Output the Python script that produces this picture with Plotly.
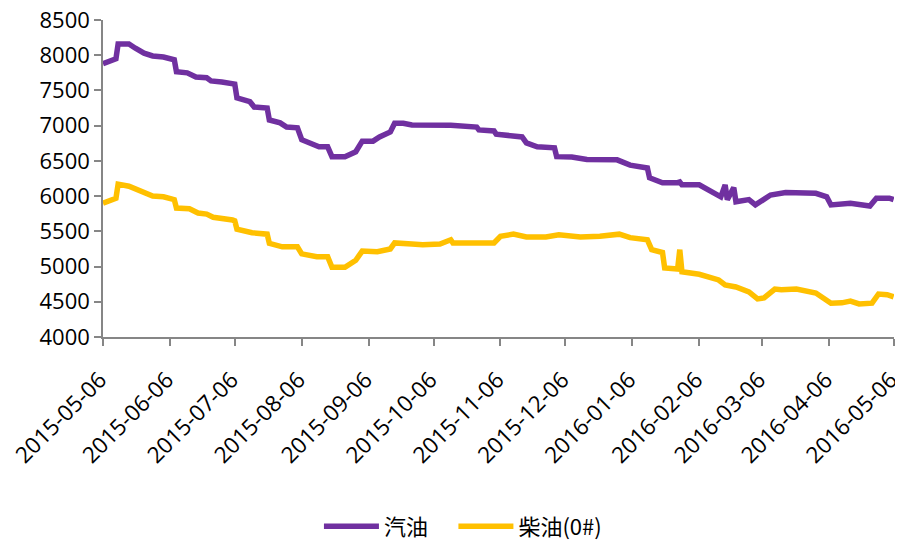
import plotly.graph_objects as go

# 汽油 (gasoline)
gas_dates = ["2015-05-06","2015-05-12","2015-05-13","2015-05-18","2015-05-21","2015-05-25","2015-05-29",
             "2015-06-03","2015-06-08","2015-06-09","2015-06-14","2015-06-18","2015-06-23","2015-06-25",
             "2015-06-30","2015-07-06","2015-07-07","2015-07-13","2015-07-15","2015-07-21","2015-07-22",
             "2015-07-27","2015-07-30","2015-08-04","2015-08-06","2015-08-10","2015-08-14","2015-08-18",
             "2015-08-20","2015-08-26","2015-08-31","2015-09-03","2015-09-08","2015-09-11","2015-09-16",
             "2015-09-18","2015-09-22","2015-09-26","2015-10-14","2015-10-26","2015-10-27","2015-11-03",
             "2015-11-04","2015-11-16","2015-11-18","2015-11-23","2015-12-01","2015-12-02","2015-12-09",
             "2015-12-16","2015-12-30","2016-01-05","2016-01-13","2016-01-14","2016-01-20","2016-01-27",
             "2016-01-28","2016-01-29","2016-02-06","2016-02-16","2016-02-18","2016-02-19","2016-02-22",
             "2016-02-23","2016-02-29","2016-03-03","2016-03-07","2016-03-10","2016-03-17","2016-03-31",
             "2016-04-05","2016-04-07","2016-04-16","2016-04-25","2016-04-28","2016-05-04","2016-05-06"]
gas_values = [7880,7950,8160,8160,8100,8030,7990,
              7975,7935,7765,7750,7690,7680,7635,
              7620,7590,7395,7340,7265,7250,7080,
              7040,6980,6970,6800,6755,6700,6700,
              6560,6560,6630,6780,6780,6840,6910,
              7035,7035,7010,7005,6980,6940,6925,
              6880,6840,6755,6700,6685,6560,6555,
              6520,6515,6440,6400,6260,6190,6190,
              6200,6160,6160,5990,6160,5950,6120,
              5920,5950,5875,5950,6015,6050,6040,
              5990,5875,5900,5860,5970,5970,5950]

# 柴油(0#) (diesel)
diesel_dates = ["2015-05-06","2015-05-12","2015-05-13","2015-05-18","2015-05-29","2015-06-03","2015-06-08",
                "2015-06-09","2015-06-15","2015-06-19","2015-06-23","2015-06-26","2015-07-05","2015-07-06",
                "2015-07-07","2015-07-14","2015-07-21","2015-07-22","2015-07-28","2015-08-04","2015-08-06",
                "2015-08-13","2015-08-18","2015-08-20","2015-08-26","2015-08-31","2015-09-03","2015-09-10",
                "2015-09-16","2015-09-18","2015-09-26","2015-10-01","2015-10-09","2015-10-14","2015-10-15",
                "2015-11-03","2015-11-06","2015-11-12","2015-11-18","2015-11-27","2015-12-03","2015-12-13",
                "2015-12-22","2015-12-31","2016-01-05","2016-01-13","2016-01-15","2016-01-20","2016-01-21",
                "2016-01-27","2016-01-28","2016-01-29","2016-02-06","2016-02-15","2016-02-18","2016-02-23",
                "2016-02-29","2016-03-04","2016-03-07","2016-03-12","2016-03-15","2016-03-22","2016-03-31",
                "2016-04-07","2016-04-12","2016-04-16","2016-04-20","2016-04-26","2016-04-29","2016-05-03",
                "2016-05-06"]
diesel_values = [5900,5970,6170,6140,6000,5990,5950,
                 5830,5820,5760,5745,5700,5660,5650,
                 5530,5480,5460,5330,5280,5280,5180,
                 5140,5140,4990,4990,5090,5220,5210,
                 5250,5335,5320,5310,5320,5380,5335,
                 5335,5430,5460,5420,5420,5450,5420,
                 5430,5460,5410,5380,5240,5200,4980,
                 4965,5240,4925,4890,4810,4740,4710,
                 4640,4540,4555,4680,4670,4680,4625,
                 4480,4485,4510,4470,4480,4610,4600,
                 4570]

tick_dates = ["2015-05-06","2015-06-06","2015-07-06","2015-08-06","2015-09-06","2015-10-06",
              "2015-11-06","2015-12-06","2016-01-06","2016-02-06","2016-03-06","2016-04-06","2016-05-06"]
tick_labels = list(tick_dates)
y_ticks = [4000,4500,5000,5500,6000,6500,7000,7500,8000,8500]

font_main = "Open Sans, Noto Sans CJK SC, sans-serif"
legend_font = dict(family="Noto Sans CJK SC, Open Sans, sans-serif", size=22, color="#000")

fig = go.Figure()
fig.add_trace(go.Scatter(x=gas_dates, y=gas_values, mode="lines", name="汽油",
                         line=dict(color="#7030A0", width=5.5), legend="legend"))
fig.add_trace(go.Scatter(x=diesel_dates, y=diesel_values, mode="lines", name="柴油(0#)",
                         line=dict(color="#FFC000", width=5.5), legend="legend2"))

# page body has an 8px default margin, so the figure is sized to fit 903x542 with it
fig.update_layout(
    width=895, height=534,
    margin=dict(l=95, r=9, t=12, b=205, autoexpand=False),
    paper_bgcolor="white", plot_bgcolor="white",
    font=dict(family=font_main, size=22, color="#000000"),
    showlegend=True,
    legend=dict(orientation="h", x=0.273, xanchor="left", y=-0.598, yanchor="middle",
                font=legend_font, itemwidth=55),
    legend2=dict(orientation="h", x=0.443, xanchor="left", y=-0.598, yanchor="middle",
                 font=legend_font, itemwidth=55),
    xaxis=dict(type="date", range=["2015-05-06", "2016-05-06 04:00"],
               tickmode="array", tickvals=tick_dates, ticktext=tick_labels,
               tickangle=-45, showgrid=False, zeroline=False, automargin=False,
               ticklabeloverflow="allow", ticklabelstandoff=12, ticklabelshift=-3,
               showline=True, linecolor="#868686", linewidth=1.5,
               ticks="outside", ticklen=7, tickcolor="#868686", tickwidth=1.5,
               tickfont=dict(size=22.5)),
    yaxis=dict(range=[4000, 8500], tickmode="array", tickvals=y_ticks,
               showgrid=False, zeroline=False, automargin=False,
               ticklabeloverflow="allow",
               showline=True, linecolor="#868686", linewidth=1.5,
               ticks="outside", ticklen=7, tickcolor="#868686", tickwidth=1.5,
               tickfont=dict(size=22)),
)

fig.write_html("out.html")
